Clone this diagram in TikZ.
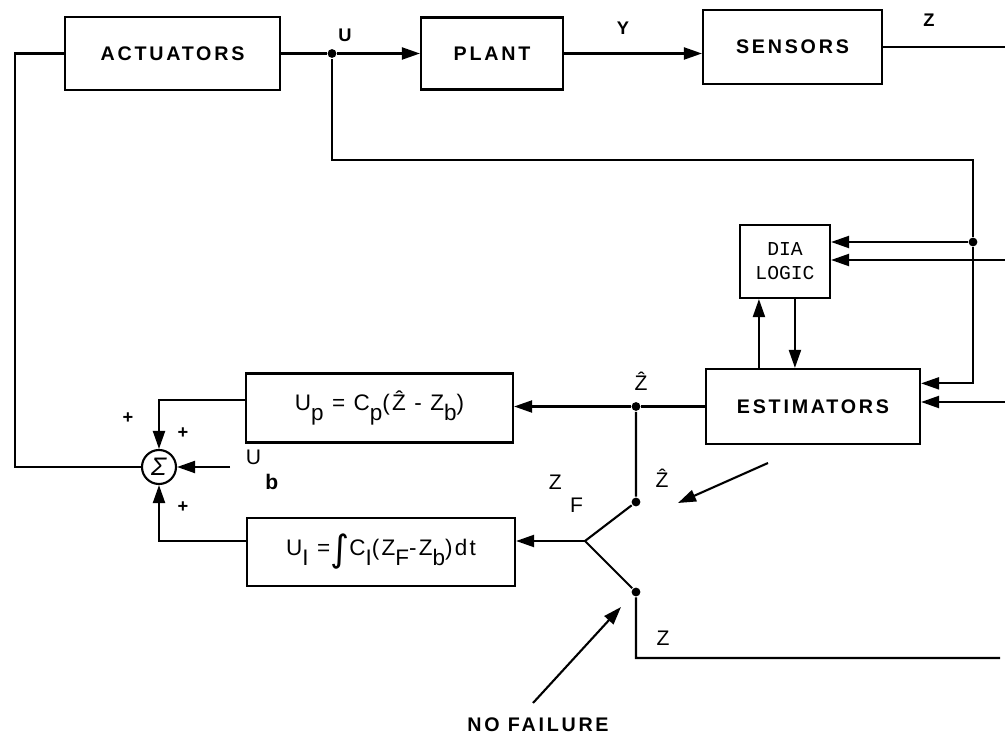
\documentclass[tikz,border=0pt]{standalone}
\usepackage{fontspec}
\setmainfont{Liberation Sans}
\newfontfamily\boxfont[LetterSpace=14]{Liberation Sans}
\newfontfamily\eqfont[LetterSpace=10]{Liberation Sans}
\newfontfamily\diafont{Liberation Mono}
\newfontfamily\intfont{DejaVu Sans}
\usetikzlibrary{arrows.meta,calc}
\newcommand\lowsub[1]{\raisebox{-0.45em}{#1}}

\begin{document}
\begin{tikzpicture}[x=0.025cm,y=-0.025cm,line width=1.5pt,
  blk/.style={draw,rectangle,inner sep=0pt,font=\boxfont\bfseries\fontsize{14}{16}\selectfont},
  eqbox/.style={draw,rectangle,inner sep=0pt,font=\eqfont\fontsize{16}{18}\selectfont},
  sig/.style={font=\bfseries\fontsize{13}{15}\selectfont},
  lbl/.style={font=\fontsize{15}{17}\selectfont},
  pnt/.style={circle,fill,inner sep=0pt,minimum size=0.22cm},
  arr/.style={-{Triangle[length=0.45cm,width=0.3cm]}}]
\useasboundingbox (0,0) rectangle (1005,740);

\node[blk,minimum width=5.375cm,minimum height=1.825cm] (act) at (172.5,53.5) {ACTUATORS};
\node[blk,minimum width=3.55cm,minimum height=1.8cm] (plant) at (492,53.5) {PLANT};
\node[blk,minimum width=4.475cm,minimum height=1.85cm] (sens) at (792.5,47) {SENSORS};
\node[blk,minimum width=2.25cm,minimum height=1.825cm,align=center,
  font=\diafont\fontsize{14}{17}\selectfont] (dia) at (785,261.5) {DIA\\LOGIC};
\node[blk,minimum width=5.35cm,minimum height=1.875cm] (est) at (813,406.5) {ESTIMATORS};
\node[eqbox,minimum width=6.675cm,minimum height=1.725cm] (pbox) at (379.5,408)
  {U\lowsub{p} = C\lowsub{p}(\^{Z} - Z\lowsub{b})};
\node[eqbox,minimum width=6.7cm,minimum height=1.7cm] (ibox) at (381,552)
  {U\lowsub{I} =\raisebox{-0.3em}{\intfont\fontsize{26}{26}\selectfont ∫}C\lowsub{I}(Z\lowsub{F}-Z\lowsub{b})dt};
\node[draw,circle,minimum size=0.85cm,inner sep=0pt,font=\fontsize{18}{18}\selectfont] (sum) at (159,467) {\textit{Σ}};

\node[pnt] (ju) at (332,53.5) {};
\node[pnt] (jd) at (973,242) {};
\node[pnt] (jh) at (636,406.5) {};
\node[pnt] (c1) at (636,502) {};
\node[pnt] (c2) at (636,592) {};

\coordinate (pv) at (585,541);
\coordinate (lft) at (15,467);
\coordinate (bnd) at (973,160);
\coordinate (zout) at (1005,47);
\coordinate (dzin) at (1005,260);
\coordinate (ezin) at (1005,402);
\coordinate (zlow) at (1000,658);
\coordinate (ub) at (230,467);
\coordinate (ua) at ($(dia.south west)+(20,0)$);
\coordinate (da) at ($(dia.south west)+(56,0)$);
\coordinate (hs) at (768,463);
\coordinate (ht) at (678,503);
\coordinate (ns) at (533,703);
\coordinate (nt) at (621,607);

\draw (act.east) -- (ju);
\draw[arr] (ju) -- (plant.west);
\draw[arr] (plant.east) -- (plant.east -| sens.west);
\draw (sens.east) -- (zout);
\draw (act.west) -| (lft) -- (sum.west);
\draw (ju) |- (bnd) -- (jd);
\draw[arr] (jd) -- (jd -| dia.east);
\draw[arr] (jd) |- ($(est.north east)!0.2!(est.south east)$);
\draw[arr] (dzin) -- (dzin -| dia.east);
\draw[arr] (ezin) -- (ezin -| est.east);
\draw[arr] (ua |- est.north) -- (ua);
\draw[arr] (da) -- (da |- est.north);
\draw (est.west) -- (jh);
\draw[arr] (jh) -- (jh -| pbox.east);
\draw (jh) -- (c1) -- (pv) -- (c2) |- (zlow);
\draw[arr] (pv) -- (pv -| ibox.east);
\draw[arr] ([yshift=0.21cm]pbox.west) -| (sum.north);
\draw[arr] ([yshift=0.27cm]ibox.west) -| (sum.south);
\draw[arr] (ub) -- (sum.east);
\draw[arr] (hs) -- (ht);
\draw[arr] (ns) -- (nt);

\node[sig] at (345,35) {U};
\node[sig] at (623,28) {Y};
\node[sig] at (929,20) {Z};
\node[lbl] at (641,381) {\^{Z}};
\node[lbl] at (662,478) {\^{Z}};
\node[lbl] at (566,494) {Z\hspace{6pt}\raisebox{-1.1em}{F}};
\node[lbl] at (663,638) {Z};
\node[lbl] at (262,470) {U\hspace{3pt}\raisebox{-1.2em}{\bfseries b}};
\node[sig] at (128,418) {+};
\node[sig] at (183,433) {+};
\node[sig] at (183,507) {+};
\node[blk,draw=none] (nf) at (538,725) {NO FAILURE};

\end{tikzpicture}
\end{document}
